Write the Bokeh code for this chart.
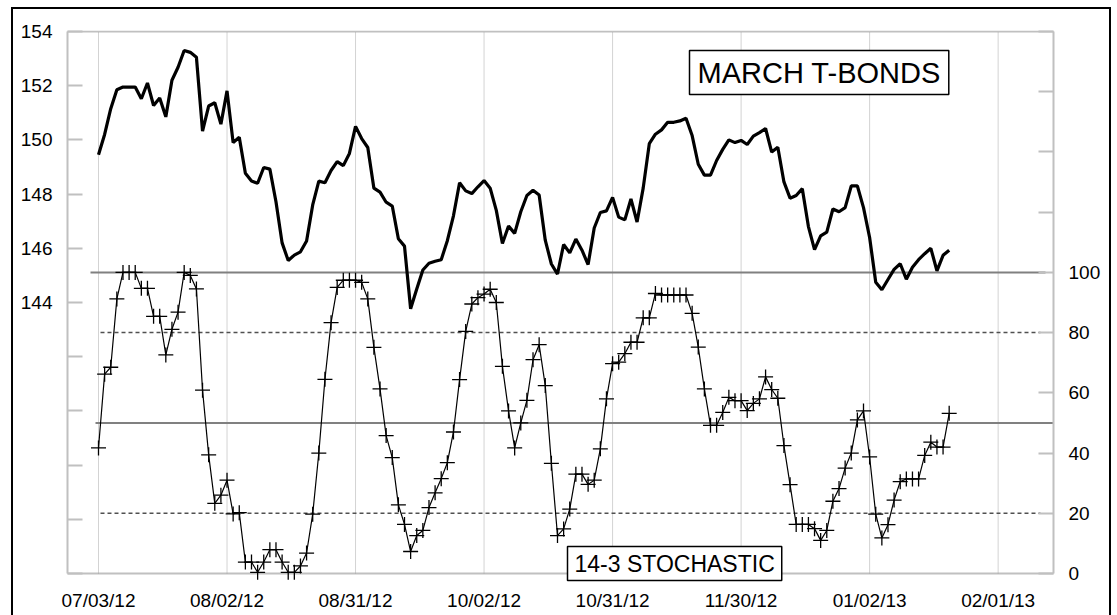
from bokeh.plotting import figure
from bokeh.models import Range1d, LinearAxis, FixedTicker, Label
from bokeh.embed import file_html
from bokeh.resources import INLINE

# ---------------- data ----------------
date_labels = ["07/03/12", "08/02/12", "08/31/12", "10/02/12",
               "10/31/12", "11/30/12", "01/02/13", "02/01/13"]
date_index = [0, 21, 42, 63, 84, 105, 126, 147]   # trading-day index

price = [
    149.45, 150.20, 151.15, 151.85, 151.95, 151.95, 151.95, 151.52, 152.10, 151.27,
    151.55, 150.85, 152.20, 152.68, 153.30, 153.23, 153.05, 150.32, 151.25, 151.37,
    150.58, 151.81, 149.90, 150.10, 148.77, 148.48, 148.40, 148.98, 148.92, 147.72,
    146.20, 145.55, 145.75, 145.87, 146.27, 147.60, 148.48, 148.42, 148.87, 149.20,
    149.05, 149.50, 150.50, 150.05, 149.72, 148.22, 148.07, 147.70, 147.56, 146.35,
    146.08, 143.77, 144.50, 145.20, 145.45, 145.52, 145.58, 146.28, 147.20, 148.42,
    148.12, 148.02, 148.27, 148.50, 148.22, 147.40, 146.18, 146.82, 146.55, 147.35,
    147.95, 148.14, 147.97, 146.30, 145.42, 145.05, 146.14, 145.83, 146.34, 145.93,
    145.40, 146.75, 147.32, 147.38, 147.88, 147.15, 147.05, 147.82, 146.97, 148.22,
    149.86, 150.21, 150.37, 150.65, 150.65, 150.70, 150.80, 150.16, 149.10, 148.70,
    148.70, 149.24, 149.65, 150.00, 149.90, 149.98, 149.83, 150.14, 150.27, 150.42,
    149.55, 149.73, 148.45, 147.85, 147.95, 148.20, 146.80, 145.95, 146.46, 146.60,
    147.45, 147.35, 147.50, 148.30, 148.30, 147.50, 146.40, 144.75, 144.47, 144.85,
    145.22, 145.43, 144.86, 145.30, 145.58, 145.80, 146.00, 145.17, 145.74, 145.93,
]

stoch = [
    41.7, 66.2, 68.5, 91.2, 100.0, 100.0, 100.0, 94.7, 94.7, 85.4,
    85.4, 72.6, 81.1, 86.8, 100.0, 99.0, 94.5, 60.9, 39.4, 23.3,
    26.0, 31.0, 19.8, 20.2, 3.8, 3.8, 0.4, 3.8, 7.9, 7.9,
    3.8, 0.4, 0.4, 2.5, 6.8, 19.7, 40.0, 64.5, 83.3, 95.0,
    97.4, 97.4, 97.4, 96.7, 91.2, 75.1, 61.3, 45.8, 38.5, 22.8,
    16.3, 7.3, 12.6, 14.3, 21.9, 26.8, 31.5, 36.8, 47.0, 64.4,
    80.4, 89.5, 91.6, 92.8, 94.4, 90.0, 68.8, 54.0, 41.7, 50.0,
    57.5, 71.0, 76.0, 62.4, 36.6, 12.6, 14.8, 21.4, 33.0, 33.0,
    29.6, 31.0, 41.4, 58.0, 69.7, 70.2, 73.0, 76.8, 76.8, 84.9,
    84.9, 93.0, 92.5, 92.5, 92.5, 92.5, 92.5, 86.4, 75.2, 61.3,
    49.2, 49.2, 53.5, 58.5, 57.4, 57.4, 54.1, 56.5, 58.0, 65.3,
    61.1, 58.2, 42.5, 29.5, 16.3, 16.3, 16.3, 14.9, 11.0, 14.3,
    24.0, 28.2, 35.0, 40.0, 51.0, 54.0, 38.7, 19.7, 11.8, 16.2,
    24.4, 30.5, 31.4, 31.4, 31.4, 39.2, 43.6, 42.0, 42.0, 53.2,
]

left_ticks = [134, 136, 138, 140, 142, 144, 146, 148, 150, 152, 154]
left_labelled_from = 144
right_ticks = [0, 20, 40, 60, 80, 100, 120, 140, 160, 180]
right_labelled_to = 100
solid_levels = [100, 50]
dashed_levels = [80, 20]
price_title = "MARCH T-BONDS"
stoch_title = "14-3 STOCHASTIC"

days = list(range(len(price)))

# ---------------- geometry helpers (page pixels -> data) ----------------
PX_DAY = 6.12
X_ORIGIN_PX = 98.0
def xd(px):
    return (px - X_ORIGIN_PX) / PX_DAY
def yp(py):
    return 144 + (302.0 - py) / 27.1
def ys(py):
    return (573.0 - py) / 3.011

FONT = "Liberation Sans"
GRAY = "#c0c0c0"
W, H = 1117, 615
F_LEFT, F_RIGHT, F_TOP, F_BOTTOM = 67, 1053, 30, 586

p = figure(width=W, height=H, output_backend="svg", toolbar_location=None,
           x_range=Range1d(xd(F_LEFT), xd(F_RIGHT)),
           y_range=Range1d(yp(F_BOTTOM), yp(F_TOP)),
           min_border_left=F_LEFT, min_border_right=W - F_RIGHT,
           min_border_top=F_TOP, min_border_bottom=H - F_BOTTOM)
p.extra_y_ranges = {"stoch": Range1d(ys(F_BOTTOM), ys(F_TOP))}
p.background_fill_color = "white"
p.border_fill_color = None
p.outline_line_color = None
# outer black frame of the picture (left, top, right sides)
p.styles = {"box-shadow": "inset 11px 7px 0 0 white, inset -6px 0 0 0 white, "
                          "inset 13px 9px 0 0 black, inset -8px 0 0 0 black",
            "background-color": "white"}

# x axis
xa = p.xaxis[0]
xa.ticker = FixedTicker(ticks=date_index)
xa.major_label_overrides = {i: d for i, d in zip(date_index, date_labels)}
xa.major_tick_in = 0
xa.major_tick_out = 0
xa.minor_tick_line_color = None
xa.axis_line_color = None
xa.major_label_standoff = 3

# left axis
ya = p.yaxis[0]
ya.ticker = FixedTicker(ticks=left_ticks)
ya.bounds = (left_ticks[0], left_ticks[-1])
ya.major_label_overrides = {t: (str(t) if t >= left_labelled_from else "") for t in left_ticks}

# right axis
ra = LinearAxis(y_range_name="stoch", ticker=FixedTicker(ticks=right_ticks),
                bounds=(right_ticks[0], right_ticks[-1]))
ra.major_label_overrides = {t: (str(t) if t <= right_labelled_to else "") for t in right_ticks}
p.add_layout(ra, "right")

for ax in (ya, ra):
    ax.major_tick_in = 15
    ax.major_tick_out = 0
    ax.major_tick_line_color = GRAY
    ax.major_tick_line_width = 2
    ax.minor_tick_line_color = None
    ax.axis_line_color = GRAY
    ax.axis_line_width = 2
    ax.major_label_standoff = 15

for ax in (xa, ya, ra):
    ax.major_label_text_font = FONT
    ax.major_label_text_font_size = "19px"
    ax.major_label_text_color = "black"

p.xgrid.grid_line_color = None
p.ygrid.grid_line_color = None

# plot-area top and bottom edges
p.segment(x0=xd(F_LEFT - 2), x1=xd(F_RIGHT + 2), y0=[left_ticks[0], left_ticks[-1]],
          y1=[left_ticks[0], left_ticks[-1]], line_color=GRAY, line_width=2)

# vertical dotted grid at the date ticks
p.segment(x0=date_index, x1=date_index, y0=left_ticks[0], y1=left_ticks[-1],
          line_color="#a6a6a6", line_width=1, line_dash="1 1")

# reference levels of the stochastic
p.segment(x0=xd(90), x1=xd(1045), y0=solid_levels[0], y1=solid_levels[0],
          y_range_name="stoch", line_color="#808080", line_width=2)
p.segment(x0=xd(95), x1=xd(1060), y0=solid_levels[1], y1=solid_levels[1],
          y_range_name="stoch", line_color="#808080", line_width=2)
for lv in dashed_levels:
    p.segment(x0=xd(100), x1=xd(1040), y0=lv, y1=lv, y_range_name="stoch",
              line_color="#505050", line_width=1.5, line_dash="4 3")

# price line
p.line(days, price, line_color="black", line_width=3.2)

# stochastic
p.line(days, stoch, y_range_name="stoch", line_color="black", line_width=1.2)
p.scatter(days, stoch, y_range_name="stoch", marker="cross", size=15,
          line_color="black", line_width=1.3)

# titles (padding is (horizontal, vertical))
p.add_layout(Label(x=xd(689), y=yp(50), text=price_title, text_align="left",
                   text_baseline="top", text_font=FONT, text_font_size="29px",
                   text_color="black", background_fill_color="white",
                   border_line_color="black", border_line_width=1.5, padding=(8, 6)))
p.add_layout(Label(x=xd(567), y=ys(546), y_range_name="stoch", text=stoch_title,
                   text_align="left", text_baseline="top", text_font=FONT,
                   text_font_size="23px", text_color="black",
                   background_fill_color="white", border_line_color="black",
                   border_line_width=1.5, padding=(7, 4)))

open("out.html", "w").write(file_html(p, INLINE))
